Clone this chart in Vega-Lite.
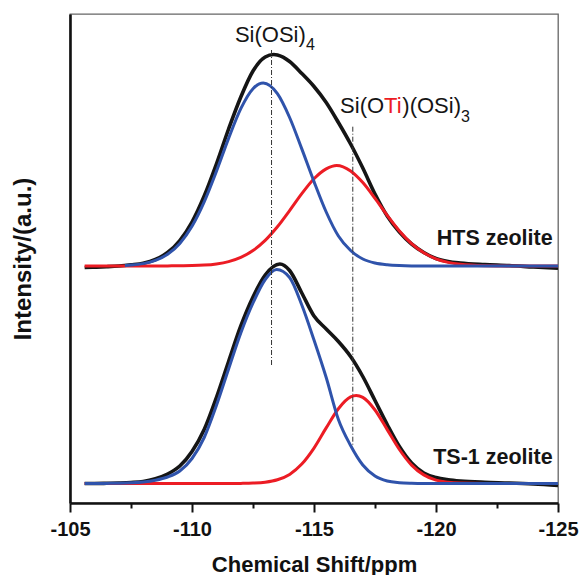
{
  "$schema": "https://vega.github.io/schema/vega-lite/v6.json",
  "width": 488,
  "height": 489,
  "autosize": "none",
  "padding": {"left": 70, "top": 14, "right": 22, "bottom": 72},
  "background": "white",
  "config": {
    "font": "Liberation Sans",
    "view": {"stroke": "#666666", "strokeWidth": 1.3}
  },
  "datasets": {
    "total": [
      {"sample": "HTS", "ppm": -105.6, "value": 235.5}, {"sample": "HTS", "ppm": -106, "value": 235.8},
      {"sample": "HTS", "ppm": -106.5, "value": 236.3}, {"sample": "HTS", "ppm": -107, "value": 237},
      {"sample": "HTS", "ppm": -107.5, "value": 238.2}, {"sample": "HTS", "ppm": -108, "value": 239.8},
      {"sample": "HTS", "ppm": -108.5, "value": 243.5}, {"sample": "HTS", "ppm": -109, "value": 250.5},
      {"sample": "HTS", "ppm": -109.5, "value": 262.5}, {"sample": "HTS", "ppm": -110, "value": 281},
      {"sample": "HTS", "ppm": -110.5, "value": 307}, {"sample": "HTS", "ppm": -111, "value": 339},
      {"sample": "HTS", "ppm": -111.5, "value": 374}, {"sample": "HTS", "ppm": -112, "value": 406},
      {"sample": "HTS", "ppm": -112.5, "value": 432}, {"sample": "HTS", "ppm": -113, "value": 446},
      {"sample": "HTS", "ppm": -113.35, "value": 448.5}, {"sample": "HTS", "ppm": -113.5, "value": 448},
      {"sample": "HTS", "ppm": -114, "value": 441.5}, {"sample": "HTS", "ppm": -114.5, "value": 429.5},
      {"sample": "HTS", "ppm": -115, "value": 416.5}, {"sample": "HTS", "ppm": -115.5, "value": 400.5},
      {"sample": "HTS", "ppm": -116, "value": 380.5}, {"sample": "HTS", "ppm": -116.5, "value": 359},
      {"sample": "HTS", "ppm": -117, "value": 335}, {"sample": "HTS", "ppm": -117.5, "value": 309},
      {"sample": "HTS", "ppm": -118, "value": 287}, {"sample": "HTS", "ppm": -118.5, "value": 271},
      {"sample": "HTS", "ppm": -119, "value": 259}, {"sample": "HTS", "ppm": -119.5, "value": 250.5},
      {"sample": "HTS", "ppm": -120, "value": 244.5}, {"sample": "HTS", "ppm": -120.5, "value": 241.5},
      {"sample": "HTS", "ppm": -121, "value": 240}, {"sample": "HTS", "ppm": -122, "value": 238.5},
      {"sample": "HTS", "ppm": -123, "value": 237.5}, {"sample": "HTS", "ppm": -124, "value": 236},
      {"sample": "HTS", "ppm": -125, "value": 234.7},
      {"sample": "TS-1", "ppm": -105.6, "value": 19.5}, {"sample": "TS-1", "ppm": -106, "value": 19.5},
      {"sample": "TS-1", "ppm": -106.5, "value": 19.7}, {"sample": "TS-1", "ppm": -107, "value": 20},
      {"sample": "TS-1", "ppm": -107.5, "value": 20.5}, {"sample": "TS-1", "ppm": -108, "value": 21.5},
      {"sample": "TS-1", "ppm": -108.5, "value": 24.3}, {"sample": "TS-1", "ppm": -109, "value": 29},
      {"sample": "TS-1", "ppm": -109.5, "value": 37}, {"sample": "TS-1", "ppm": -110, "value": 51.5},
      {"sample": "TS-1", "ppm": -110.5, "value": 73.5}, {"sample": "TS-1", "ppm": -111, "value": 105.5},
      {"sample": "TS-1", "ppm": -111.5, "value": 141.5}, {"sample": "TS-1", "ppm": -112, "value": 177},
      {"sample": "TS-1", "ppm": -112.5, "value": 206}, {"sample": "TS-1", "ppm": -113, "value": 228},
      {"sample": "TS-1", "ppm": -113.6, "value": 239}, {"sample": "TS-1", "ppm": -114, "value": 232.5},
      {"sample": "TS-1", "ppm": -114.5, "value": 210}, {"sample": "TS-1", "ppm": -115, "value": 187},
      {"sample": "TS-1", "ppm": -115.5, "value": 174}, {"sample": "TS-1", "ppm": -116, "value": 161.5},
      {"sample": "TS-1", "ppm": -116.5, "value": 146.5}, {"sample": "TS-1", "ppm": -117, "value": 126.5},
      {"sample": "TS-1", "ppm": -117.5, "value": 102.5}, {"sample": "TS-1", "ppm": -118, "value": 78.5},
      {"sample": "TS-1", "ppm": -118.5, "value": 56.5}, {"sample": "TS-1", "ppm": -119, "value": 40},
      {"sample": "TS-1", "ppm": -119.5, "value": 30}, {"sample": "TS-1", "ppm": -120, "value": 25.5},
      {"sample": "TS-1", "ppm": -120.5, "value": 23.3}, {"sample": "TS-1", "ppm": -121, "value": 22},
      {"sample": "TS-1", "ppm": -122, "value": 20.7}, {"sample": "TS-1", "ppm": -123, "value": 20},
      {"sample": "TS-1", "ppm": -124, "value": 19}, {"sample": "TS-1", "ppm": -125, "value": 17.5}
    ],
    "siOTi": [
      {"sample": "HTS", "ppm": -105.6, "value": 237}, {"sample": "HTS", "ppm": -108, "value": 237},
      {"sample": "HTS", "ppm": -109, "value": 237.1}, {"sample": "HTS", "ppm": -110, "value": 237.4},
      {"sample": "HTS", "ppm": -110.5, "value": 237.9}, {"sample": "HTS", "ppm": -111, "value": 239.1},
      {"sample": "HTS", "ppm": -111.5, "value": 241.4}, {"sample": "HTS", "ppm": -112, "value": 245.6},
      {"sample": "HTS", "ppm": -112.5, "value": 252.5}, {"sample": "HTS", "ppm": -113, "value": 262.6},
      {"sample": "HTS", "ppm": -113.5, "value": 276.2}, {"sample": "HTS", "ppm": -114, "value": 292.4},
      {"sample": "HTS", "ppm": -114.5, "value": 309.3}, {"sample": "HTS", "ppm": -115, "value": 324.2},
      {"sample": "HTS", "ppm": -115.5, "value": 334.1}, {"sample": "HTS", "ppm": -115.93, "value": 337.5},
      {"sample": "HTS", "ppm": -116.5, "value": 332}, {"sample": "HTS", "ppm": -117, "value": 320.4},
      {"sample": "HTS", "ppm": -117.5, "value": 304.6}, {"sample": "HTS", "ppm": -118, "value": 287.7},
      {"sample": "HTS", "ppm": -118.5, "value": 272.1}, {"sample": "HTS", "ppm": -119, "value": 259.4},
      {"sample": "HTS", "ppm": -119.5, "value": 250.2}, {"sample": "HTS", "ppm": -120, "value": 244.2},
      {"sample": "HTS", "ppm": -120.5, "value": 240.6}, {"sample": "HTS", "ppm": -121, "value": 238.7},
      {"sample": "HTS", "ppm": -122, "value": 237.3}, {"sample": "HTS", "ppm": -123, "value": 237},
      {"sample": "HTS", "ppm": -125, "value": 237},
      {"sample": "TS-1", "ppm": -105.6, "value": 19.5}, {"sample": "TS-1", "ppm": -111.5, "value": 19.5},
      {"sample": "TS-1", "ppm": -112, "value": 19.6}, {"sample": "TS-1", "ppm": -112.5, "value": 19.9},
      {"sample": "TS-1", "ppm": -113, "value": 20.8}, {"sample": "TS-1", "ppm": -113.5, "value": 23.2},
      {"sample": "TS-1", "ppm": -114, "value": 28.6}, {"sample": "TS-1", "ppm": -114.5, "value": 38.9},
      {"sample": "TS-1", "ppm": -115, "value": 54.9}, {"sample": "TS-1", "ppm": -115.5, "value": 75.1},
      {"sample": "TS-1", "ppm": -116, "value": 94.3}, {"sample": "TS-1", "ppm": -116.5, "value": 106.1},
      {"sample": "TS-1", "ppm": -116.73, "value": 107.5}, {"sample": "TS-1", "ppm": -117, "value": 105.6},
      {"sample": "TS-1", "ppm": -117.5, "value": 93}, {"sample": "TS-1", "ppm": -118, "value": 73.4},
      {"sample": "TS-1", "ppm": -118.5, "value": 53.5}, {"sample": "TS-1", "ppm": -119, "value": 37.9},
      {"sample": "TS-1", "ppm": -119.5, "value": 28.1}, {"sample": "TS-1", "ppm": -120, "value": 22.9},
      {"sample": "TS-1", "ppm": -120.5, "value": 20.7}, {"sample": "TS-1", "ppm": -121, "value": 19.9},
      {"sample": "TS-1", "ppm": -122, "value": 19.5}, {"sample": "TS-1", "ppm": -125, "value": 19.5}
    ],
    "siOSi4": [
      {"sample": "HTS", "ppm": -107.25, "value": 237.6}, {"sample": "HTS", "ppm": -107.5, "value": 238},
      {"sample": "HTS", "ppm": -108, "value": 239.4}, {"sample": "HTS", "ppm": -108.5, "value": 242.6},
      {"sample": "HTS", "ppm": -109, "value": 248.7}, {"sample": "HTS", "ppm": -109.5, "value": 259.6},
      {"sample": "HTS", "ppm": -110, "value": 276.8}, {"sample": "HTS", "ppm": -110.5, "value": 301.2},
      {"sample": "HTS", "ppm": -111, "value": 331.6}, {"sample": "HTS", "ppm": -111.5, "value": 364.6},
      {"sample": "HTS", "ppm": -112, "value": 394.3}, {"sample": "HTS", "ppm": -112.5, "value": 414.3},
      {"sample": "HTS", "ppm": -112.92, "value": 420}, {"sample": "HTS", "ppm": -113.5, "value": 409.3},
      {"sample": "HTS", "ppm": -114, "value": 385.5}, {"sample": "HTS", "ppm": -114.5, "value": 354.1},
      {"sample": "HTS", "ppm": -115, "value": 321.4}, {"sample": "HTS", "ppm": -115.5, "value": 291},
      {"sample": "HTS", "ppm": -116, "value": 267}, {"sample": "HTS", "ppm": -116.5, "value": 252.5},
      {"sample": "HTS", "ppm": -117, "value": 244}, {"sample": "HTS", "ppm": -117.5, "value": 240},
      {"sample": "HTS", "ppm": -118, "value": 238.2}, {"sample": "HTS", "ppm": -118.5, "value": 237.4},
      {"sample": "HTS", "ppm": -119, "value": 237.1}, {"sample": "HTS", "ppm": -120, "value": 237},
      {"sample": "HTS", "ppm": -125, "value": 237},
      {"sample": "TS-1", "ppm": -105.6, "value": 19.5}, {"sample": "TS-1", "ppm": -106.5, "value": 19.6},
      {"sample": "TS-1", "ppm": -107, "value": 19.8}, {"sample": "TS-1", "ppm": -107.5, "value": 20.2},
      {"sample": "TS-1", "ppm": -108, "value": 21}, {"sample": "TS-1", "ppm": -108.5, "value": 22.8},
      {"sample": "TS-1", "ppm": -109, "value": 26}, {"sample": "TS-1", "ppm": -109.5, "value": 32},
      {"sample": "TS-1", "ppm": -110, "value": 44.5}, {"sample": "TS-1", "ppm": -110.5, "value": 65.5},
      {"sample": "TS-1", "ppm": -111, "value": 97.5}, {"sample": "TS-1", "ppm": -111.5, "value": 134},
      {"sample": "TS-1", "ppm": -112, "value": 170}, {"sample": "TS-1", "ppm": -112.5, "value": 200},
      {"sample": "TS-1", "ppm": -113, "value": 223.5}, {"sample": "TS-1", "ppm": -113.47, "value": 233.5},
      {"sample": "TS-1", "ppm": -114, "value": 225.5}, {"sample": "TS-1", "ppm": -114.5, "value": 198},
      {"sample": "TS-1", "ppm": -115, "value": 163}, {"sample": "TS-1", "ppm": -115.5, "value": 125.5},
      {"sample": "TS-1", "ppm": -116, "value": 83.5}, {"sample": "TS-1", "ppm": -116.5, "value": 57.5},
      {"sample": "TS-1", "ppm": -117, "value": 38}, {"sample": "TS-1", "ppm": -117.5, "value": 27},
      {"sample": "TS-1", "ppm": -118, "value": 22}, {"sample": "TS-1", "ppm": -118.5, "value": 20.3},
      {"sample": "TS-1", "ppm": -119, "value": 19.7}, {"sample": "TS-1", "ppm": -119.5, "value": 19.5},
      {"sample": "TS-1", "ppm": -125, "value": 19.5}
    ],
    "guides": [
      {"peak": "Si(OSi)4", "ppm": -113.26, "value": 453, "value2": 136.7},
      {"peak": "Si(OTi)(OSi)3", "ppm": -116.59, "value": 376.3, "value2": 58}
    ],
    "peakNames": [
      {"text": "Si(OSi)", "ppm": -111.76, "value": 461.3},
      {"text": "Si(O", "ppm": -116.07, "value": 389.7},
      {"text": ")(OSi)", "ppm": -118.62, "value": 389.7}
    ],
    "peakSubscripts": [
      {"text": "4", "ppm": -114.67, "value": 453},
      {"text": "3", "ppm": -121.02, "value": 381}
    ],
    "titanium": [
      {"text": "Ti", "ppm": -117.87, "value": 389.7}
    ],
    "samples": [
      {"text": "HTS zeolite", "ppm": -124.78, "value": 258},
      {"text": "TS-1 zeolite", "ppm": -124.78, "value": 38.7}
    ]
  },
  "encoding": {
    "x": {
      "field": "ppm",
      "type": "quantitative",
      "scale": {"domain": [-125, -105], "reverse": true, "nice": false, "zero": false},
      "axis": {
        "title": "Chemical Shift/ppm",
        "values": [-105, -107.5, -110, -112.5, -115, -117.5, -120, -122.5, -125],
        "labelExpr": "datum.value % 5 === 0 ? '' + datum.value : ''",
        "labelFlush": false,
        "labelOverlap": false,
        "labelFontSize": 20,
        "labelFontWeight": "bold",
        "labelColor": "#111111",
        "labelPadding": 7,
        "tickSize": {"condition": {"test": "datum.value % 5 === 0", "value": 9}, "value": 5},
        "tickWidth": 2,
        "tickColor": "#111111",
        "domainWidth": 2.6,
        "domainColor": "#111111",
        "grid": false,
        "titleFontSize": 22,
        "titleFontWeight": "bold",
        "titleColor": "#111111",
        "titlePadding": 15
      }
    },
    "y": {
      "field": "value",
      "type": "quantitative",
      "scale": {"domain": [0, 489], "nice": false, "zero": false},
      "axis": {
        "title": "Intensity/(a.u.)",
        "ticks": false,
        "labels": false,
        "grid": false,
        "domainWidth": 2.6,
        "domainColor": "#111111",
        "titleFontSize": 24,
        "titleFontWeight": "bold",
        "titleColor": "#111111",
        "titlePadding": 35
      }
    }
  },
  "layer": [
    {
      "data": {"name": "total"},
      "mark": {"type": "line", "interpolate": "monotone", "color": "#151515", "strokeWidth": 3.6},
      "encoding": {"detail": {"field": "sample"}}
    },
    {
      "data": {"name": "siOTi"},
      "mark": {"type": "line", "interpolate": "monotone", "color": "#ec1c24", "strokeWidth": 3},
      "encoding": {"detail": {"field": "sample"}}
    },
    {
      "data": {"name": "siOSi4"},
      "mark": {"type": "line", "interpolate": "monotone", "color": "#2f53ab", "strokeWidth": 3},
      "encoding": {"detail": {"field": "sample"}}
    },
    {
      "data": {"name": "guides"},
      "mark": {"type": "rule", "color": "#333333", "strokeWidth": 1, "strokeDash": [5, 2, 1, 2]},
      "encoding": {"y2": {"field": "value2"}}
    },
    {
      "data": {"name": "peakNames"},
      "mark": {"type": "text", "align": "left", "baseline": "alphabetic", "fontSize": 22, "color": "#151515"},
      "encoding": {"text": {"field": "text"}}
    },
    {
      "data": {"name": "peakSubscripts"},
      "mark": {"type": "text", "align": "left", "baseline": "alphabetic", "fontSize": 16, "color": "#151515"},
      "encoding": {"text": {"field": "text"}}
    },
    {
      "data": {"name": "titanium"},
      "mark": {"type": "text", "align": "left", "baseline": "alphabetic", "fontSize": 22, "color": "#ec1c24"},
      "encoding": {"text": {"field": "text"}}
    },
    {
      "data": {"name": "samples"},
      "mark": {"type": "text", "align": "right", "baseline": "alphabetic", "fontSize": 21.5, "fontWeight": "bold", "color": "#151515"},
      "encoding": {"text": {"field": "text"}}
    }
  ]
}
